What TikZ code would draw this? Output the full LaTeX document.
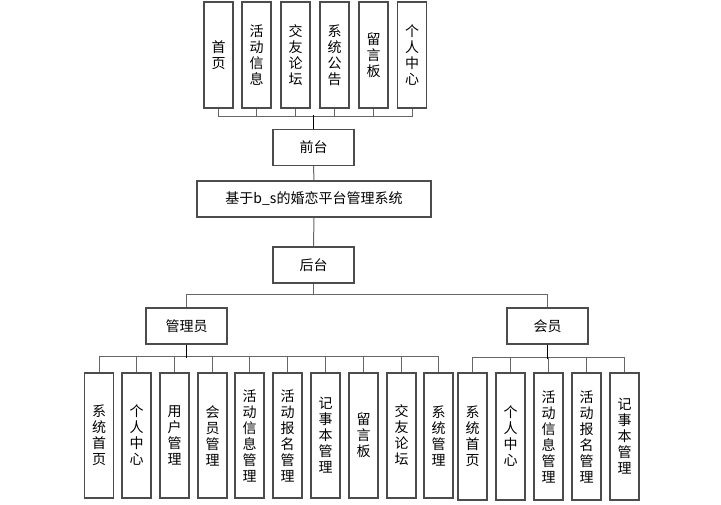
\documentclass[tikz,border=0pt]{standalone}
\usepackage{fontspec}
\setmainfont{Noto Sans CJK SC}
\tikzset{
  box/.style={draw=black!70, line width=1.3pt, fill=white, inner sep=0pt,
    minimum width=81pt, minimum height=36pt, font=\fontsize{14}{16}\selectfont},
  colbox/.style={box, minimum width=29pt, align=center},
  link/.style={draw=black!60, line width=1pt},
  trunk/.style={draw=black, line width=1.6pt}
}
\begin{document}
\begin{tikzpicture}[x=1pt, y=-1pt]
  \useasboundingbox (0,0) rectangle (721,505);

  % front end
  \foreach \n/\x/\txt in {1/218.5/{首\\页}, 2/256.5/{活\\动\\信\\息}, 3/295.5/{交\\友\\论\\坛},
      4/334.5/{系\\统\\公\\告}, 5/373.5/{留\\言\\板}, 6/412/{个\\人\\中\\心}}
    \node [colbox, minimum height=106pt] (f\n) at (\x,55) {\txt};

  \node [box] (qiantai) at (313.5,147.5) {前台};
  \node [box, minimum width=234pt] (main) at (314,199) {基于b\_s的婚恋平台管理系统};
  \node [box] (houtai) at (313.5,265) {后台};

  \node [box] (admin) at (186.5,326) {管理员};
  \node [box] (member) at (547.5,326) {会员};

  % admin
  \foreach \n/\x/\txt in {1/99/{系\\统\\首\\页}, 2/136.5/{个\\人\\中\\心}, 3/174.5/{用\\户\\管\\理},
      4/212.5/{会\\员\\管\\理}, 5/249.5/{活\\动\\信\\息\\管\\理}, 6/287.5/{活\\动\\报\\名\\管\\理},
      7/325.5/{记\\事\\本\\管\\理}, 8/363.5/{留\\言\\板}, 9/401.5/{交\\友\\论\\坛},
      10/438.5/{系\\统\\管\\理}}
    \node [colbox, minimum height=125pt] (a\n) at (\x,435.5) {\txt};

  % member
  \foreach \n/\x/\txt in {1/472.5/{系\\统\\首\\页}, 2/510.5/{个\\人\\中\\心},
      3/548.5/{活\\动\\信\\息\\管\\理}, 4/586.5/{活\\动\\报\\名\\管\\理},
      5/624.5/{记\\事\\本\\管\\理}}
    \node [colbox, minimum height=127pt] (m\n) at (\x,436.5) {\txt};

  % connectors
  \foreach \n in {1,...,6}
    \draw [link] (f\n.south) -- ++(0,8) -| (qiantai.north);
  \draw [trunk] (qiantai.north) -- ++(0,-14);
  \draw [link] (qiantai) -- (main);
  \draw [link] (main) -- (houtai);
  \draw [link] (admin.north) -- ++(0,-13) -| (houtai.south);
  \draw [link] (member.north) -- ++(0,-13) -| (houtai.south);
  \foreach \n in {1,...,10}
    \draw [link] (a\n.north) -- ++(0,-16) -| (admin.south);
  \draw [trunk] (admin.south) -- ++(0,13);
  \foreach \n in {1,...,5}
    \draw [link] (m\n.north) -- ++(0,-15) -| (member.south);
  \draw [trunk] (member.south) -- ++(0,14);
\end{tikzpicture}
\end{document}
